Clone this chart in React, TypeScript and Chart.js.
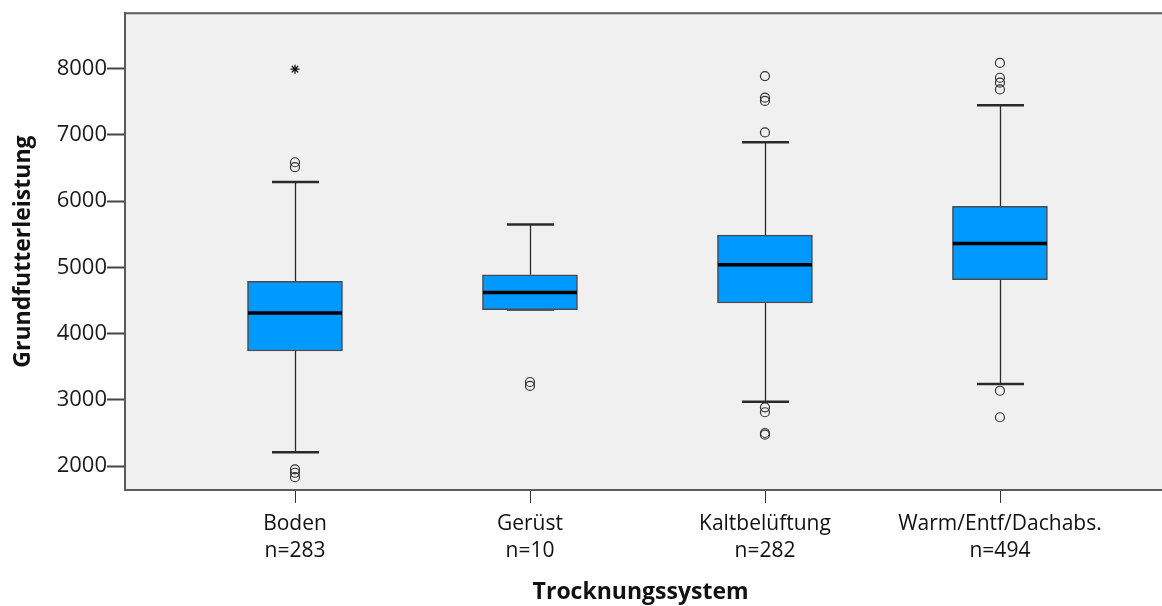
import React, { useEffect, useRef } from "react";
import { Chart, registerables } from "chart.js";

Chart.register(...registerables);

const categories = ["Boden", "Gerüst", "Kaltbelüftung", "Warm/Entf/Dachabs."];
const counts = [283, 10, 282, 494];
const whiskerMin = [2210, 4363, 2973, 3238];
const q1 = [3738, 4363, 4462, 4813];
const medians = [4312, 4622, 5038, 5361];
const q3 = [4787, 4888, 5487, 5922];
const whiskerMax = [6286, 5646, 6886, 7445];
const outlierCat = [0, 0, 0, 0, 0, 1, 1, 2, 2, 2, 2, 2, 2, 2, 2, 3, 3, 3, 3, 3, 3];
const outlierVal = [6586, 6511, 1950, 1900, 1834, 3270, 3210, 7886, 7561, 7511, 7036, 2888, 2813, 2500, 2475, 8085, 7861, 7786, 7685, 3138, 2738];
const extremeCat = [0];
const extremeVal = [7990];
const yTicks = [2000, 3000, 4000, 5000, 6000, 7000, 8000];

const FONT = "'Open Sans', 'DejaVu Sans', sans-serif";

const boxPlugin = {
  id: "boxPlot",
  beforeDraw(chart: any) {
    const { ctx, chartArea } = chart;
    ctx.save();
    ctx.fillStyle = "#f0f0f0";
    ctx.fillRect(chartArea.left, chartArea.top, chart.width - chartArea.left, chartArea.bottom - chartArea.top);
    ctx.restore();
  },
  beforeDatasetsDraw(chart: any) {
    const { ctx } = chart;
    const xs = chart.scales.x;
    const ys = chart.scales.y;
    ctx.save();
    ctx.strokeStyle = "#2a2a2a";
    categories.forEach((_, i) => {
      const x = Math.round(xs.getPixelForValue(i)) + 0.5;
      ctx.lineWidth = 1.3;
      ctx.beginPath();
      ctx.moveTo(x, ys.getPixelForValue(q3[i]));
      ctx.lineTo(x, ys.getPixelForValue(whiskerMax[i]));
      ctx.moveTo(x, ys.getPixelForValue(q1[i]));
      ctx.lineTo(x, ys.getPixelForValue(whiskerMin[i]));
      ctx.stroke();
      ctx.lineWidth = 2.5;
      ctx.beginPath();
      const hw = 23.5;
      const yMax = ys.getPixelForValue(whiskerMax[i]);
      const yMin = ys.getPixelForValue(whiskerMin[i]);
      ctx.moveTo(x - hw, yMax);
      ctx.lineTo(x + hw, yMax);
      ctx.moveTo(x - hw, yMin);
      ctx.lineTo(x + hw, yMin);
      ctx.stroke();
    });
    ctx.restore();
  },
  afterDatasetsDraw(chart: any) {
    const { ctx, chartArea } = chart;
    const xs = chart.scales.x;
    const ys = chart.scales.y;
    ctx.save();
    ctx.strokeStyle = "#000000";
    ctx.lineWidth = 3.5;
    categories.forEach((_, i) => {
      const x = xs.getPixelForValue(i);
      const y = ys.getPixelForValue(medians[i]);
      ctx.beginPath();
      ctx.moveTo(x - 47, y);
      ctx.lineTo(x + 47, y);
      ctx.stroke();
    });
    // x tick marks
    ctx.strokeStyle = "#333";
    ctx.lineWidth = 1;
    categories.forEach((_, i) => {
      const x = Math.round(xs.getPixelForValue(i)) + 0.5;
      ctx.beginPath();
      ctx.moveTo(x, chartArea.bottom + 1);
      ctx.lineTo(x, chartArea.bottom + 13);
      ctx.stroke();
    });
    ctx.strokeStyle = "#5a5a5a";
    ctx.lineWidth = 2;
    ctx.beginPath();
    ctx.moveTo(chartArea.left, chartArea.top);
    ctx.lineTo(chart.width, chartArea.top);
    ctx.moveTo(chartArea.left, chartArea.bottom);
    ctx.lineTo(chart.width, chartArea.bottom);
    ctx.stroke();
    ctx.restore();
  },
};

export default function App() {
  const ref = useRef<HTMLCanvasElement | null>(null);
  useEffect(() => {
    if (!ref.current) return;
    const chart = new Chart(ref.current, {
      type: "bar",
      data: {
        datasets: [
          {
            type: "bar",
            data: categories.map((_, i) => ({ x: i, y: [q1[i], q3[i]] })) as any,
            backgroundColor: "#0099ff",
            borderColor: "#4a4a4a",
            borderWidth: 1.5,
            borderSkipped: false,
            barThickness: 95,
            grouped: false,
            order: 2,
          } as any,
          {
            type: "scatter",
            data: outlierVal.map((v, k) => ({ x: outlierCat[k], y: v })),
            pointStyle: "circle",
            pointRadius: 4.5,
            backgroundColor: "rgba(0,0,0,0)",
            borderColor: "#333333",
            borderWidth: 1.2,
            order: 1,
          } as any,
          {
            type: "scatter",
            data: extremeVal.map((v, k) => ({ x: extremeCat[k], y: v })),
            pointStyle: "star",
            pointRadius: 4.5,
            backgroundColor: "#000",
            borderColor: "#111111",
            borderWidth: 1.3,
            order: 0,
          } as any,
        ],
      },
      options: {
        responsive: false,
        animation: false,
        events: [],
        layout: { padding: { top: 10, left: 0, right: 0, bottom: 0 } },
        plugins: { legend: { display: false }, tooltip: { enabled: false } },
        scales: {
          x: {
            type: "linear",
            offset: false,
            min: -0.7234,
            max: 3.665,
            afterFit: (s: any) => {
              s.height = 116;
            },
            afterBuildTicks: (s: any) => {
              s.ticks = categories.map((_, i) => ({ value: i }));
            },
            ticks: {
              autoSkip: false,
              maxRotation: 0,
              padding: 12,
              color: "#111",
              font: { family: FONT, size: 21, lineHeight: 1.3 },
              callback: (v: any) => [categories[v], "n=" + counts[v]],
            },
            grid: { display: false },
            border: { display: false },
            title: {
              display: true,
              text: "Trocknungssystem",
              color: "#111",
              font: { family: FONT, size: 23, weight: "bold" },
              padding: { top: 0, bottom: 0 },
            },
          },
          y: {
            type: "linear",
            min: 1640,
            max: 8835,
            afterFit: (s: any) => {
              s.width = 125;
            },
            afterBuildTicks: (s: any) => {
              s.ticks = yTicks.map((v) => ({ value: v }));
            },
            ticks: {
              padding: 0,
              color: "#1a1a1a",
              font: { family: FONT, size: 22 },
              callback: (v: any) => String(v),
            },
            grid: {
              display: true,
              drawOnChartArea: false,
              drawTicks: true,
              tickLength: 18,
              tickWidth: 2,
              color: "#444",
            },
            border: { display: true, color: "#5a5a5a", width: 2 },
            title: {
              display: true,
              text: "Grundfutterleistung",
              color: "#111",
              font: { family: FONT, size: 23, weight: "bold" },
              padding: { top: 10, bottom: 0 },
            },
          },
        },
      },
      plugins: [boxPlugin],
    } as any);
    return () => chart.destroy();
  }, []);
  return (
    <div style={{ position: "fixed", left: 0, top: 0, width: 1162, height: 606, background: "#fff", overflow: "hidden" }}>
      <canvas ref={ref} width={1162} height={606} style={{ display: "block" }} />
    </div>
  );
}
